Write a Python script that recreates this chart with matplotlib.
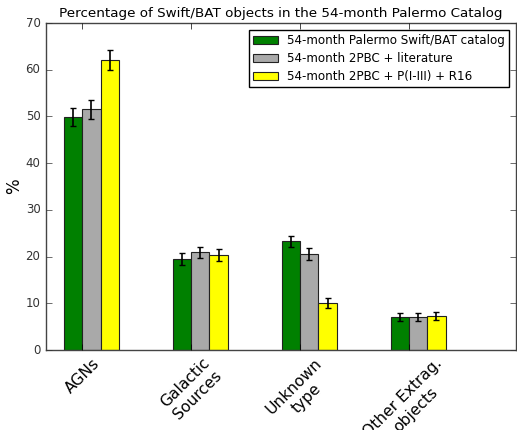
import matplotlib
matplotlib.use("Agg")
import matplotlib.pyplot as plt
import numpy as np

categories = ["AGNs", "Galactic\nSources", "Unknown\ntype", "Other Extrag.\nobjects"]
series_names = ["54-month Palermo Swift/BAT catalog",
                "54-month 2PBC + literature",
                "54-month 2PBC + P(I-III) + R16"]
palermo = [49.9, 19.5, 23.3, 7.1]
palermo_err = [2.0, 1.25, 1.2, 0.8]
lit = [51.5, 20.9, 20.5, 7.1]
lit_err = [2.0, 1.25, 1.3, 0.8]
r16 = [62.1, 20.3, 10.1, 7.3]
r16_err = [2.2, 1.25, 1.0, 0.85]
colors = ["green", "darkgray", "yellow"]

plt.style.use("classic")
fig = plt.figure(figsize=(5.17, 4.30), dpi=100, facecolor="white")
ax = fig.add_axes([0.089, 0.186, 0.909, 0.7605])

ind = np.arange(len(categories))
w = 0.168
vals = [palermo, lit, r16]
errs = [palermo_err, lit_err, r16_err]
for k in range(3):
    ax.bar(ind + k * w, vals[k], w, yerr=errs[k], color=colors[k],
           edgecolor="#222222", linewidth=0.8, align="edge",
           ecolor="black", capsize=2, label=series_names[k],
           error_kw=dict(elinewidth=1.2, capthick=1.0))

ax.set_xlim(-0.165, 4.15)
ax.set_ylim(0, 70)
ax.set_xticks(ind + w)
ax.set_xticklabels(categories, rotation=45, fontsize=11.2)
ax.tick_params(axis="y", labelsize=8.5, colors="#333333")
ax.tick_params(axis="x", colors="black")
for s in ax.spines.values():
    s.set_color("#444444")
ax.set_ylabel("%", fontsize=12, labelpad=2)
ax.set_title("Percentage of Swift/BAT objects in the 54-month Palermo Catalog",
             fontsize=9.7, pad=4)
leg = ax.legend(loc="upper right", fontsize=8.6, fancybox=False,
                borderaxespad=0.6, handlelength=2.1, handleheight=0.7,
                labelspacing=0.4, borderpad=0.35, handletextpad=0.7)

fig.savefig("out.png", dpi=100, facecolor="white")
